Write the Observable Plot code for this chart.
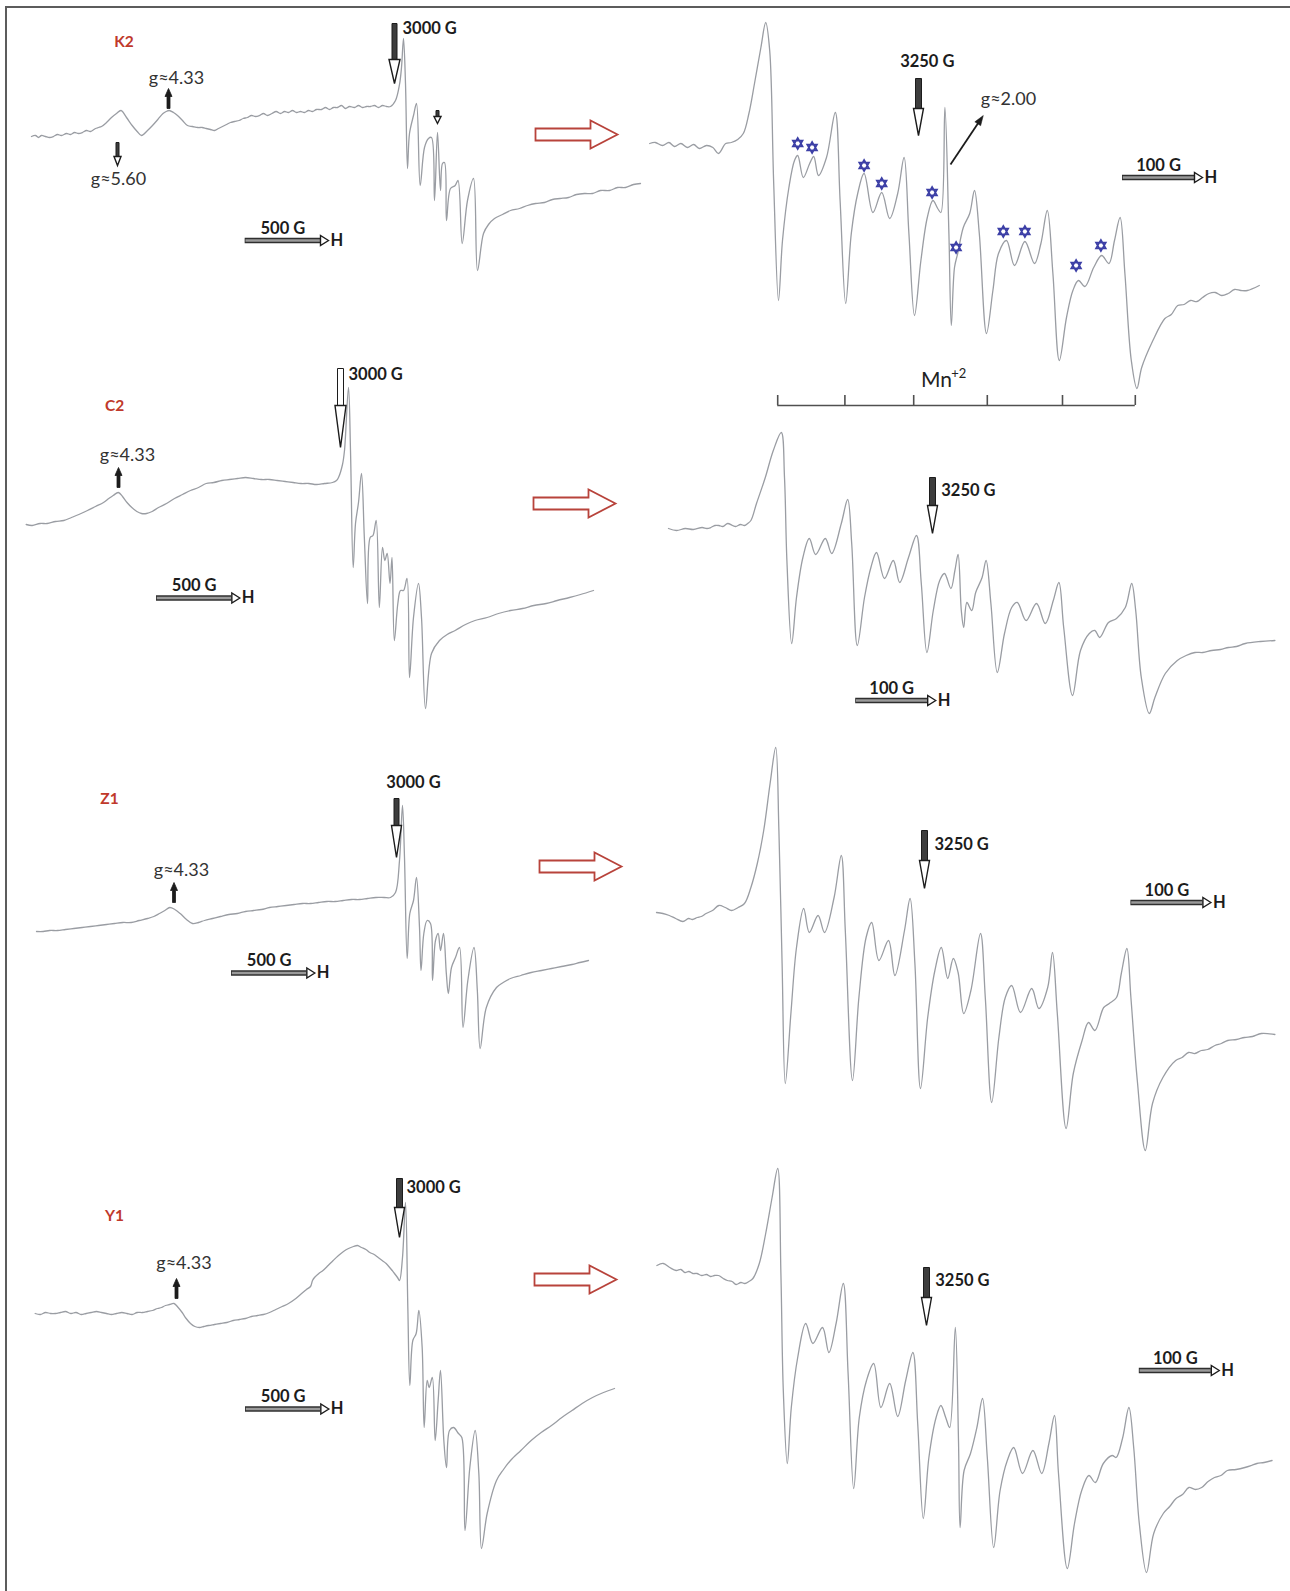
<!DOCTYPE html>
<html>
<head>
<meta charset="utf-8">
<script src="https://cdn.jsdelivr.net/npm/d3@7"></script>
<script src="https://cdn.jsdelivr.net/npm/@observablehq/plot@0.6"></script>
<style>
  html, body { margin: 0; padding: 0; background: #fff; }
  #figure { position: relative; width: 1290px; height: 1591px; overflow: hidden; background: #fff; }
  #figure .panel { position: absolute; }
  #figure .panel svg { display: block; overflow: visible; }
  #figure .rule-top { position: absolute; left: 5px; top: 6px; right: 0; height: 0; border-top: 2px solid #5c5c5c; }
  #figure .rule-left { position: absolute; left: 5px; top: 6px; bottom: 0; width: 0; border-left: 2px solid #5c5c5c; }
</style>
</head>
<body>
<div id="figure"><div class="rule-top"></div><div class="rule-left"></div></div>
<script>
// ---------------------------------------------------------------------------
// EPR spectra of four samples: wide sweep (left) and the Mn2+ sextet (right).
// Each trace is [magnetic field (G), first-derivative intensity (a.u.)].
// ---------------------------------------------------------------------------
const samples = ["K2", "C2", "Z1", "Y1"];

const k2Wide = [
  [822,0],[846,1],[864,-1],[882,1],[906,0],[930,-1],[954,0],[978,2],[1002,1],[1032,3],[1056,2],[1080,4],[1104,3],[1128,4],[1152,6],[1176,5],[1206,8],[1224,9],[1242,10],[1272,14],[1302,19],[1332,23],[1359,26],[1392,19],[1426,11],[1456,5],[1482,1],[1518,6],[1548,11],[1580,17],[1611,23],[1630,25],[1648,26],[1674,24],[1698,21],[1728,16],[1758,11],[1788,10],[1821,9],[1846,9],[1870,8],[1896,7],[1920,6],[1944,8],[1968,10],[1992,12],[2016,14],[2040,15],[2068,16],[2092,18],[2118,19],[2142,21],[2166,20],[2190,21],[2214,23],[2238,21],[2265,23],[2290,25],[2316,23],[2340,25],[2364,24],[2388,26],[2412,24],[2436,25],[2460,24],[2484,26],[2508,25],[2532,27],[2562,27],[2586,29],[2610,27],[2634,29],[2658,29],[2682,31],[2706,28],[2730,30],[2760,29],[2784,31],[2808,29],[2832,30],[2856,30],[2880,31],[2904,29],[2928,31],[2952,30],[2976,30],
  [3006,36],[3030,52],[3042,69],[3054,98],[3066,53],[3078,-32],[3090,3],[3114,21],[3132,33],[3154,-49],[3180,-11],[3204,-2],[3222,-1],[3240,-64],[3258,4],[3276,-54],[3288,-27],[3300,-26],[3312,-84],[3336,-52],[3364,-49],[3381,-44],[3406,-107],[3438,-64],[3474,-42],[3498,-134],[3534,-97],[3564,-88],[3600,-82],[3648,-78],[3696,-74],[3750,-72],[3798,-69],[3846,-67],[3900,-66],[3948,-63],[3993,-62],[4044,-61],[4092,-58],[4140,-57],[4188,-57],[4236,-54],[4290,-54],[4338,-51],[4386,-51],[4434,-48],[4476,-47]
];
const k2Narrow = [
  [2914,0],[2921,1],[2930,-2],[2938,1],[2945,-3],[2953,0],[2961,-4],[2969,-1],[2976,-5],[2985,-2],[2993,-4],[3000,-10],[3009,0],[3016,1],[3024,4],[3031,10],[3038,30],[3045,60],[3053,96],[3059,121],[3064,93],[3069,-40],[3075,-157],[3080,-97],[3088,-44],[3095,-17],[3099,-12],[3106,-34],[3114,-20],[3119,-13],[3125,-32],[3135,-14],[3146,31],[3152,-57],[3159,-160],[3166,-90],[3174,-50],[3182,-30],[3193,-69],[3204,-49],[3214,-75],[3224,-50],[3232,-14],[3238,-90],[3245,-172],[3253,-117],[3261,-74],[3268,-57],[3274,-65],[3278,-69],[3283,36],[3288,-90],[3291,-182],[3295,-124],[3299,-110],[3306,-84],[3314,-70],[3320,-47],[3326,-90],[3335,-190],[3343,-147],[3350,-110],[3360,-97],[3370,-122],[3383,-98],[3395,-120],[3403,-100],[3411,-67],[3418,-130],[3426,-217],[3435,-174],[3443,-147],[3450,-137],[3458,-143],[3469,-124],[3479,-112],[3488,-120],[3495,-97],[3502,-74],[3508,-130],[3516,-217],[3523,-245],[3529,-224],[3543,-197],[3558,-175],[3566,-171],[3574,-162],[3582,-161],[3590,-157],[3598,-158],[3605,-154],[3613,-150],[3621,-149],[3629,-152],[3637,-150],[3645,-146],[3653,-147],[3661,-147],[3676,-142]
];
const c2Wide = [
  [1114,0],[1150,-1],[1197,1],[1240,1],[1290,3],[1340,4],[1386,7],[1430,10],[1482,14],[1530,18],[1578,22],[1610,26],[1636,29],[1667,32],[1692,28],[1719,22],[1748,17],[1778,13],[1806,11],[1836,11],[1870,13],[1908,17],[1956,21],[2004,26],[2052,30],[2100,34],[2148,37],[2194,41],[2240,42],[2288,44],[2334,45],[2382,46],[2430,47],[2478,46],[2526,45],[2574,45],[2620,44],[2668,43],[2716,42],[2763,41],[2810,41],[2856,40],[2904,41],[2952,42],[2976,44],[2988,47],[3012,60],[3024,74],[3048,137],[3060,74],[3076,-43],[3090,1],[3108,22],[3126,51],[3143,-13],[3162,-79],[3178,-13],[3195,-11],[3214,4],[3233,-83],[3252,-23],[3266,-36],[3280,-29],[3297,-59],[3309,-33],[3323,-116],[3344,-79],[3360,-66],[3378,-66],[3399,-54],[3414,-153],[3438,-93],[3468,-59],[3486,-93],[3510,-184],[3546,-129],[3594,-116],[3640,-110],[3688,-106],[3750,-100],[3807,-96],[3880,-93],[3948,-89],[4020,-86],[4092,-84],[4160,-81],[4234,-79],[4300,-76],[4374,-73],[4440,-70],[4518,-66]
];
const c2Narrow = [
  [2920,0],[2930,-2],[2941,0],[2951,-1],[2962,1],[2968,0],[2973,1],[2978,3],[2983,3],[2988,2],[2994,5],[3000,3],[3004,2],[3010,4],[3015,3],[3019,5],[3023,8],[3030,25],[3041,51],[3051,78],[3061,96],[3065,51],[3068,-32],[3074,-115],[3080,-69],[3088,-29],[3096,-10],[3104,-26],[3116,-10],[3124,-25],[3136,5],[3144,29],[3149,-15],[3156,-117],[3165,-69],[3173,-39],[3180,-24],[3190,-50],[3201,-32],[3209,-54],[3220,-29],[3230,-7],[3236,-55],[3243,-124],[3251,-82],[3259,-52],[3265,-45],[3273,-60],[3278,-42],[3282,-26],[3286,-82],[3289,-99],[3293,-74],[3299,-82],[3304,-64],[3312,-49],[3317,-32],[3323,-75],[3331,-144],[3340,-105],[3349,-79],[3356,-74],[3367,-92],[3380,-75],[3391,-95],[3401,-72],[3408,-54],[3414,-99],[3425,-167],[3435,-122],[3446,-105],[3453,-102],[3459,-109],[3470,-94],[3480,-90],[3491,-79],[3499,-55],[3504,-82],[3511,-149],[3521,-185],[3528,-169],[3541,-145],[3556,-132],[3567,-127],[3578,-124],[3588,-124],[3599,-122],[3610,-121],[3620,-119],[3630,-118],[3641,-115],[3660,-113],[3678,-112]
];
const z1Wide = [
  [840,0],[880,0],[918,1],[966,1],[1014,2],[1064,3],[1114,4],[1164,5],[1212,6],[1260,7],[1308,8],[1358,9],[1408,9],[1456,11],[1506,13],[1544,15],[1578,18],[1610,21],[1640,24],[1670,22],[1702,18],[1740,12],[1776,8],[1812,9],[1848,11],[1896,13],[1944,15],[1994,17],[2045,18],[2094,20],[2142,21],[2190,22],[2238,24],[2288,25],[2338,26],[2386,27],[2436,28],[2484,28],[2532,29],[2582,30],[2632,30],[2680,31],[2730,32],[2778,32],[2826,33],[2876,34],[2926,34],[2964,34],[2994,39],[3018,71],[3036,126],[3048,74],[3064,-27],[3080,18],[3102,31],[3120,54],[3138,4],[3147,-39],[3164,-2],[3184,11],[3204,8],[3216,-49],[3234,-9],[3250,-2],[3264,-19],[3282,-2],[3299,-42],[3311,-62],[3330,-36],[3354,-26],[3378,-16],[3399,-96],[3428,-49],[3465,-16],[3485,-59],[3502,-117],[3539,-76],[3600,-56],[3640,-51],[3684,-47],[3746,-44],[3808,-41],[3870,-39],[3930,-37],[3990,-35],[4053,-33],[4100,-31],[4152,-29]
];
const z1Narrow = [
  [2915,0],[2923,-1],[2931,-3],[2939,-6],[2948,-9],[2955,-6],[2960,-7],[2966,-5],[2971,-4],[2977,-1],[2985,2],[2993,7],[3001,5],[3009,2],[3017,5],[3025,9],[3033,25],[3041,49],[3049,82],[3057,129],[3064,165],[3068,82],[3072,-51],[3076,-171],[3083,-101],[3090,-35],[3099,4],[3106,-20],[3117,-3],[3125,-20],[3137,15],[3146,57],[3151,-18],[3160,-168],[3168,-85],[3177,-25],[3184,-10],[3193,-48],[3205,-28],[3213,-63],[3225,-18],[3232,14],[3238,-51],[3245,-176],[3254,-105],[3263,-58],[3271,-35],[3279,-66],[3286,-46],[3292,-60],[3299,-101],[3308,-78],[3320,-21],[3326,-85],[3334,-190],[3343,-125],[3351,-85],[3359,-73],[3370,-100],[3384,-76],[3393,-96],[3404,-75],[3410,-40],[3416,-101],[3427,-216],[3436,-161],[3447,-128],[3455,-110],[3463,-118],[3474,-95],[3481,-91],[3490,-85],[3496,-61],[3503,-36],[3508,-85],[3516,-168],[3526,-238],[3535,-191],[3548,-165],[3564,-148],[3572,-145],[3580,-140],[3588,-141],[3596,-138],[3604,-137],[3613,-133],[3621,-131],[3629,-128],[3640,-127],[3650,-125],[3660,-124],[3671,-121],[3688,-122]
];
const y1Wide = [
  [814,0],[845,-1],[876,1],[906,0],[936,0],[966,1],[996,2],[1028,0],[1059,1],[1090,-1],[1120,0],[1150,1],[1182,2],[1212,1],[1242,0],[1272,-1],[1302,0],[1334,1],[1365,0],[1396,-1],[1426,1],[1458,1],[1488,2],[1518,3],[1548,5],[1572,6],[1596,8],[1620,9],[1647,10],[1672,6],[1696,1],[1720,-5],[1746,-10],[1772,-13],[1800,-14],[1826,-13],[1854,-12],[1890,-11],[1926,-10],[1964,-9],[2002,-7],[2040,-6],[2076,-5],[2112,-3],[2148,-2],[2184,-1],[2220,1],[2258,4],[2296,7],[2334,10],[2370,14],[2406,19],[2442,24],[2466,27],[2478,33],[2490,36],[2516,40],[2541,43],[2572,48],[2602,53],[2634,58],[2664,62],[2694,65],[2724,67],[2748,68],[2772,66],[2798,64],[2822,61],[2848,59],[2872,56],[2896,53],[2920,50],[2946,45],[2970,40],[2988,36],[3000,33],[3018,56],[3036,111],[3050,6],[3062,-72],[3080,-27],[3100,-20],[3116,3],[3136,-34],[3148,-114],[3166,-67],[3178,-74],[3197,-64],[3214,-127],[3232,-87],[3246,-57],[3266,-127],[3282,-154],[3300,-117],[3324,-114],[3354,-120],[3374,-124],[3393,-217],[3422,-154],[3454,-117],[3476,-160],[3492,-235],[3526,-200],[3582,-167],[3624,-156],[3666,-147],[3728,-137],[3790,-127],[3850,-119],[3912,-112],[3974,-104],[4035,-97],[4096,-90],[4158,-84],[4224,-79],[4290,-75]
];
const y1Narrow = [
  [2913,0],[2921,2],[2929,-2],[2937,-5],[2943,-4],[2948,-7],[2953,-6],[2958,-8],[2963,-8],[2969,-10],[2975,-9],[2980,-11],[2985,-10],[2990,-10],[2996,-13],[3001,-15],[3007,-16],[3012,-19],[3018,-17],[3023,-18],[3028,-16],[3033,-13],[3041,2],[3049,32],[3057,68],[3064,97],[3068,-8],[3071,-125],[3076,-198],[3081,-142],[3089,-92],[3099,-58],[3108,-78],[3120,-62],[3128,-87],[3137,-58],[3146,-18],[3152,-108],[3159,-223],[3166,-152],[3175,-115],[3184,-98],[3193,-142],[3204,-118],[3214,-151],[3224,-115],[3233,-87],[3239,-158],[3246,-253],[3253,-192],[3262,-152],[3268,-140],[3274,-152],[3279,-162],[3286,-62],[3290,-175],[3292,-262],[3297,-205],[3305,-188],[3313,-162],[3320,-133],[3326,-192],[3334,-282],[3342,-225],[3351,-195],[3359,-182],[3370,-208],[3383,-185],[3394,-208],[3403,-178],[3410,-150],[3415,-208],[3426,-303],[3435,-258],[3444,-225],[3453,-210],[3461,-217],[3471,-198],[3482,-190],[3487,-192],[3495,-173],[3503,-142],[3509,-182],[3516,-258],[3525,-307],[3534,-268],[3546,-248],[3554,-241],[3562,-233],[3570,-229],[3578,-222],[3586,-224],[3594,-222],[3602,-216],[3610,-212],[3618,-210],[3626,-205],[3637,-204],[3648,-202],[3656,-200],[3663,-198],[3672,-197],[3682,-195]
];

// Reference fields and scale-bar lengths (G)
const wideMarkField = 3000;
const narrowMarkField = 3250;
const wideBarLength = 500;
const narrowBarLength = 100;

// Satellite lines flagged with stars in K2 (field, intensity)
const starFields = [3099, 3117, 3182, 3204, 3267, 3297, 3356, 3383, 3447, 3478];
const starLevels = [0, -4, -22, -40, -49, -104, -88, -88, -122, -102];

// Six Mn2+ hyperfine components (G)
const mnLines = [3074, 3158, 3244, 3336, 3430, 3521];

// ---------------------------------------------------------------------------
// Styles and shapes
// ---------------------------------------------------------------------------
const TRACE = "#9a9da3";
const INK = "#1c1c1c";
const SAMPLE_RED = "#c0392b";
const FONT = "Lato, 'Open Sans', 'DejaVu Sans', sans-serif";
const boldText = {fontFamily: FONT, fontWeight: "bold", fontSize: 16.5, fill: INK, lineAnchor: "middle"};
const gText = {fontFamily: FONT, fontSize: 18, fill: "#333", lineAnchor: "middle"};

const shape = draw => ({draw});

function trace(data) {
  return Plot.line(data, {x: d => d[0], y: d => d[1], stroke: TRACE, strokeWidth: 1.3, curve: "catmull-rom"});
}

// Vertical block arrow, tip at the anchor, pointing down
function downArrow(field, tip, {total, head, headW, shaftW, shaftFill = "#3d3d3d", headFill = "#fff"}) {
  const shaft = shape(c => { c.moveTo(-shaftW / 2, -total); c.lineTo(shaftW / 2, -total); c.lineTo(shaftW / 2, -head); c.lineTo(-shaftW / 2, -head); c.closePath(); });
  const tri = shape(c => { c.moveTo(-headW / 2, -head); c.lineTo(headW / 2, -head); c.lineTo(0, 0); c.closePath(); });
  return [
    Plot.dot([field], {x: d => d, y: () => tip, symbol: shaft, fill: shaftFill, stroke: INK, strokeWidth: 1}),
    Plot.dot([field], {x: d => d, y: () => tip, symbol: tri, fill: headFill, stroke: INK, strokeWidth: 1.4})
  ];
}

// Small solid arrow, tip at the anchor, pointing up
function upArrow(field, tip, {total = 20, head = 8, headW = 7, shaftW = 3} = {}) {
  const body = shape(c => {
    c.moveTo(0, 0); c.lineTo(headW / 2, head); c.lineTo(shaftW / 2, head); c.lineTo(shaftW / 2, total);
    c.lineTo(-shaftW / 2, total); c.lineTo(-shaftW / 2, head); c.lineTo(-headW / 2, head); c.closePath();
  });
  return Plot.dot([field], {x: d => d, y: () => tip, symbol: body, fill: INK, stroke: INK, strokeWidth: 0.8});
}

const barHead = shape(c => { c.moveTo(0, 0); c.lineTo(-8, -5); c.lineTo(-8, 5); c.closePath(); });

// Field scale bar "xxx G ⇒ H"
function scaleBar(start, level, length, gpp) {
  const headG = 8 * gpp;
  const shaftEnd = start + length - headG;
  const tip = start + length;
  return [
    Plot.ruleY([level], {x1: () => start, x2: () => shaftEnd, stroke: "#2f2f2f", strokeWidth: 5.5}),
    Plot.ruleY([level], {x1: () => start + 0.8 * gpp, x2: () => shaftEnd, stroke: "#9a9a9a", strokeWidth: 2.6}),
    Plot.dot([tip], {x: d => d, y: () => level, symbol: barHead, fill: "#fff", stroke: INK, strokeWidth: 1.4}),
    Plot.text([`${length} G`], {x: () => start + (length - headG) / 2, y: () => level + 12, text: d => d, ...boldText}),
    Plot.text(["H"], {x: () => tip + 2 * gpp, y: () => level, text: d => d, textAnchor: "start", ...boldText})
  ];
}

// Hollow red block arrow linking the two views, tip at the anchor
const linkArrow = shape(c => {
  c.moveTo(0, 0); c.lineTo(-27, -14); c.lineTo(-27, -6); c.lineTo(-82, -6);
  c.lineTo(-82, 6); c.lineTo(-27, 6); c.lineTo(-27, 14); c.closePath();
});

const hexagram = shape(c => {
  const R = 5.6;
  for (const a0 of [-90, 90]) {
    for (let k = 0; k < 3; k++) {
      const a = (a0 + k * 120) * Math.PI / 180;
      const x = R * Math.cos(a), y = R * Math.sin(a);
      if (k === 0) c.moveTo(x, y); else c.lineTo(x, y);
    }
    c.closePath();
  }
});

// ---------------------------------------------------------------------------
// Layout: page box of each view and the field / intensity calibration
// ---------------------------------------------------------------------------
const fig = document.getElementById("figure");

function panel(box, cal, marks) {
  const G = px => cal.field0 + cal.gpp * (px - cal.px0);
  const svg = Plot.plot({
    width: box.width, height: box.height, margin: 0,
    x: {domain: [G(box.left), G(box.left + box.width)], axis: null},
    y: {domain: [cal.level0 - box.top - box.height, cal.level0 - box.top], axis: null},
    style: {background: "transparent", overflow: "visible"},
    marks
  });
  const holder = document.createElement("div");
  holder.className = "panel";
  Object.assign(holder.style, {left: box.left + "px", top: box.top + "px", width: box.width + "px", height: box.height + "px"});
  holder.append(svg);
  fig.append(holder);
}

const WIDE_GPP = 6, NARROW_GPP = 1.25;

// Wide sweeps
const wideViews = [
  {name: samples[0], data: k2Wide, box: {left: 8, top: 8, width: 634, height: 300}, cal: {px0: 394, level0: 136},
   nameAt: [1377, 94], gLabels: [["g≈4.33", 1692, 58.5], ["g≈5.60", 1344, -42.5]], ups: [[1644, 48]],
   downs: [[1338, -29, 23, 9], [3258, 13, 13, 7]],
   mark: {tip: 53, total: 60, head: 24, headW: 11, shaftW: 5}, markText: [3048, 108, "start"],
   bar: [2104, -104], link: [4338, 2]},
  {name: samples[1], data: c2Wide, box: {left: 8, top: 340, width: 634, height: 390}, cal: {px0: 340, level0: 524},
   nameAt: [1644, 118], gLabels: [["g≈4.33", 1722, 69]], ups: [[1668, 57]], downs: [],
   mark: {tip: 77, total: 79, head: 42, headW: 11, shaftW: 6, shaftFill: "#fff"}, markText: [3048, 150, "start"],
   bar: [1896, -73.5], link: [4650, 21]},
  {name: samples[2], data: z1Wide, box: {left: 8, top: 740, width: 634, height: 340}, cal: {px0: 396, level0: 931},
   nameAt: [1278, 132], gLabels: [["g≈4.33", 1710, 61]], ups: [[1665, 49]], downs: [],
   mark: {tip: 74, total: 59, head: 32, headW: 10, shaftW: 5}, markText: [3102, 148.5, "middle"],
   bar: [2010, -41.5], link: [4350, 65]},
  {name: samples[3], data: y1Wide, box: {left: 8, top: 1140, width: 634, height: 440}, cal: {px0: 399, level0: 1313},
   nameAt: [1290, 97], gLabels: [["g≈4.33", 1707, 50]], ups: [[1662, 35]], downs: [],
   mark: {tip: 76, total: 59, head: 30, headW: 10, shaftW: 6}, markText: [3042, 125.5, "start"],
   bar: [2076, -95.5], link: [4302, 34]}
];

for (const v of wideViews) {
  const marks = [
    trace(v.data),
    Plot.text([v.name], {x: () => v.nameAt[0], y: () => v.nameAt[1], text: d => d, fontFamily: FONT, fontWeight: "bold", fontSize: 15.5, fill: SAMPLE_RED, lineAnchor: "middle"}),
    Plot.text(v.gLabels, {x: d => d[1], y: d => d[2], text: d => d[0], ...gText}),
    ...v.ups.map(([f, t]) => upArrow(f, t)),
    ...v.downs.flatMap(([f, t, total, head]) => downArrow(f, t, {total, head, headW: 7, shaftW: 3})),
    ...downArrow(wideMarkField, v.mark.tip, v.mark),
    Plot.text([`${wideMarkField} G`], {x: () => v.markText[0], y: () => v.markText[1], text: d => d, textAnchor: v.markText[2], ...boldText}),
    ...scaleBar(v.bar[0], v.bar[1], wideBarLength, WIDE_GPP),
    Plot.dot([v.link[0]], {x: d => d, y: () => v.link[1], symbol: linkArrow, fill: "#fff", stroke: "#b8433b", strokeWidth: 1.8})
  ];
  panel(v.box, {field0: wideMarkField, gpp: WIDE_GPP, ...v.cal}, marks);
}

// Mn2+ region
const narrowViews = [
  {data: k2Narrow, box: {left: 640, top: 8, width: 648, height: 400}, cal: {px0: 918, level0: 143},
   mark: {tip: 8, total: 57, head: 27}, markText: [3261, 82, "middle"], bar: [3505, -34]},
  {data: c2Narrow, box: {left: 640, top: 410, width: 648, height: 320}, cal: {px0: 932, level0: 528},
   mark: {tip: -5, total: 56, head: 28}, markText: [3261, 38, "start"], bar: [3154, -172]},
  {data: z1Narrow, box: {left: 640, top: 730, width: 648, height: 430}, cal: {px0: 924, level0: 912},
   mark: {tip: 24, total: 58, head: 28}, markText: [3262.5, 68, "start"], bar: [3508, 10]},
  {data: y1Narrow, box: {left: 640, top: 1150, width: 648, height: 440}, cal: {px0: 926, level0: 1265},
   mark: {tip: -60, total: 58, head: 28}, markText: [3261, -15, "start"], bar: [3516, -105]}
];

narrowViews.forEach((v, i) => {
  const marks = [
    trace(v.data),
    ...downArrow(narrowMarkField, v.mark.tip, {headW: 10, shaftW: 6, ...v.mark}),
    Plot.text([`${narrowMarkField} G`], {x: () => v.markText[0], y: () => v.markText[1], text: d => d, textAnchor: v.markText[2], ...boldText}),
    ...scaleBar(v.bar[0], v.bar[1], narrowBarLength, NARROW_GPP)
  ];
  if (i === 0) {
    // satellite stars, g≈2.00 pointer and the Mn2+ sextet bracket
    const from = [3290, -21], to = [3331, 28];
    const ang = Math.atan2(-(to[1] - from[1]), (to[0] - from[0]) / NARROW_GPP);
    const pointerHead = shape(c => {
      const L = 10, W = 7, ca = Math.cos(ang), sa = Math.sin(ang);
      c.moveTo(0, 0);
      c.lineTo(-L * ca - W / 2 * sa, -L * sa + W / 2 * ca);
      c.lineTo(-L * ca + W / 2 * sa, -L * sa - W / 2 * ca);
      c.closePath();
    });
    const mnY = -262, tickTop = -252;
    marks.push(
      Plot.dot(starFields, {x: d => d, y: (d, j) => starLevels[j], symbol: hexagram, fill: "#fff", stroke: "#3c3fa6", strokeWidth: 1.7}),
      Plot.link([0], {x1: () => from[0], y1: () => from[1], x2: () => to[0] - 4 * NARROW_GPP * Math.cos(ang), y2: () => to[1] + 4 * Math.sin(ang), stroke: INK, strokeWidth: 1.8}),
      Plot.dot([to[0]], {x: d => d, y: () => to[1], symbol: pointerHead, fill: INK, stroke: INK, strokeWidth: 0.5}),
      Plot.text(["g≈2.00"], {x: () => 3362.5, y: () => 44.5, text: d => d, ...gText}),
      Plot.ruleY([mnY], {x1: () => mnLines[0], x2: () => mnLines[mnLines.length - 1], stroke: "#505050", strokeWidth: 1.6}),
      Plot.ruleX(mnLines, {y1: () => mnY, y2: () => tickTop, stroke: "#505050", strokeWidth: 1.6}),
      Plot.text(["Mn"], {x: () => 3272.5, y: () => -237, text: d => d, fontFamily: FONT, fontSize: 21, fill: "#222", lineAnchor: "middle"}),
      Plot.text(["+2"], {x: () => 3291, y: () => -230, text: d => d, fontFamily: FONT, fontSize: 13, fill: "#222", lineAnchor: "middle", textAnchor: "start"})
    );
  }
  panel(v.box, {field0: narrowMarkField, gpp: NARROW_GPP, ...v.cal}, marks);
});
</script>
</body>
</html>
